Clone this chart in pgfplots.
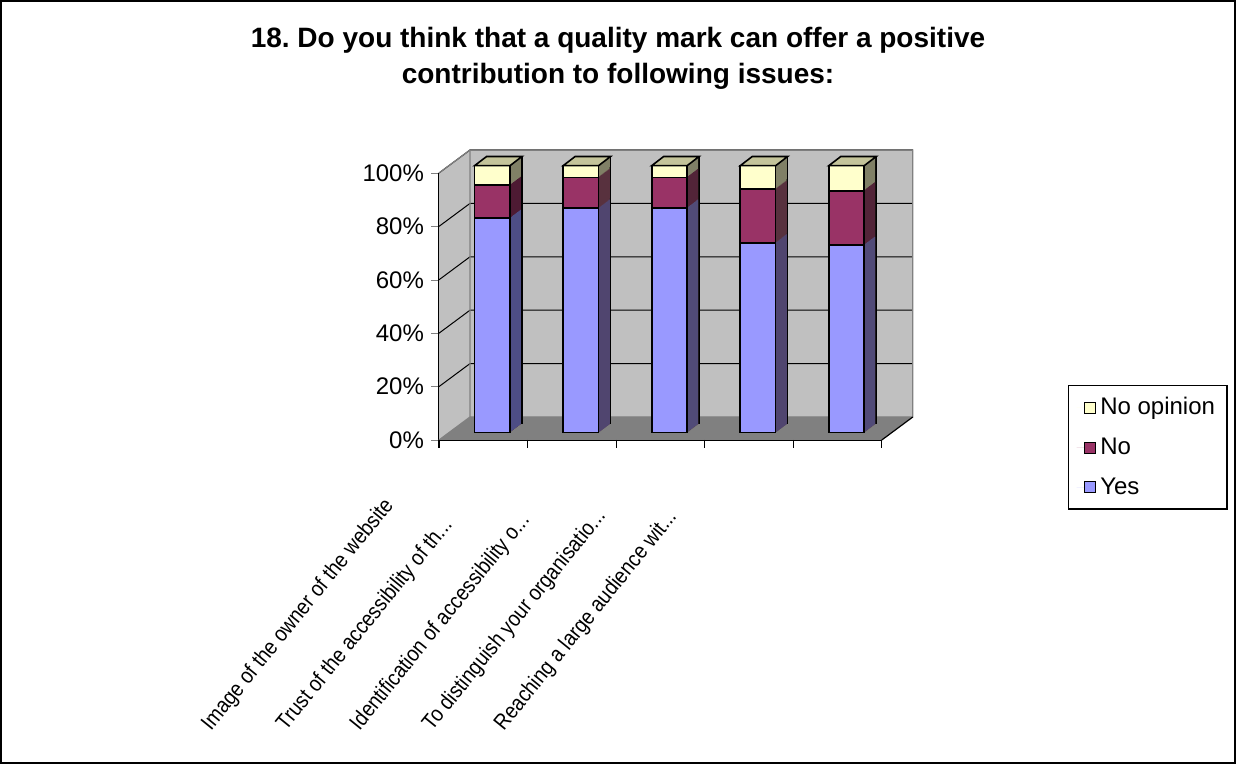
\documentclass[border=0pt]{standalone}
\usepackage{pgfplots}
\pgfplotsset{compat=1.18}
\usepackage{pgfplotstable}
\usepackage{fontspec}
\setmainfont{Liberation Sans}

\definecolor{yesF}{HTML}{9999FF}
\definecolor{yesS}{HTML}{4D4D85}
\definecolor{noF}{HTML}{993366}
\definecolor{noS}{HTML}{4D1A33}
\definecolor{noopF}{HTML}{FFFFCC}
\definecolor{noopS}{HTML}{808066}
\definecolor{topc}{HTML}{C4C49A}
\definecolor{wallc}{HTML}{C0C0C0}
\definecolor{floorc}{HTML}{808080}

% share of answers per issue (%)
\pgfplotstableread{
x yes no noop
0 80.3 12.4 7.3
1 84.1 11.5 4.4
2 84.1 11.5 4.4
3 71.1 20.1 8.8
4 70.2 20.4 9.4
}\answers

% depth of the walls and of the bars
\def\dx{15.5pt}\def\dy{11.5pt}
\def\cut{...}
\newcommand\lab[1]{\scalebox{0.88}[1]{#1}}

\pgfdeclareplotmark{topface}{%
  \pgfpathmoveto{\pgfpoint{-8.85pt}{0pt}}%
  \pgfpathlineto{\pgfpoint{8.85pt}{0pt}}%
  \pgfpathlineto{\pgfpoint{14.85pt}{4.6pt}}%
  \pgfpathlineto{\pgfpoint{-2.85pt}{4.6pt}}%
  \pgfpathclose
  \pgfusepathqfillstroke}

\newcommand\gridline[1]{\draw[black, line width=0.5pt] (axis cs:-0.5,#1) -- ([shift={(\dx,\dy)}]axis cs:-0.5,#1) -- ([shift={(\dx,\dy)}]axis cs:4.5,#1);}
\newcommand\xtickmark[1]{\draw[black, line width=0.6pt] (axis cs:#1,0) -- ([yshift=-4pt]axis cs:#1,0);}

\pgfplotsset{
  sideface/.style={forget plot, ybar, bar width=17.7pt, bar shift=0pt, draw=none,
    xshift=4.5pt+#1*0.5pt, yshift=3.65pt+#1*0.383pt},
  frontface/.style={forget plot, ybar, bar width=17.7pt, bar shift=0pt, draw=black,
    line width=0.8pt, xshift=4.5pt, yshift=3.65pt},
}

\begin{document}
\frenchspacing
\begin{tikzpicture}
\path[use as bounding box] (0,0) rectangle (618pt,382pt);
\draw[line width=1pt] (0.5pt,0.5pt) rectangle (617.5pt,381.5pt);
\node[font=\bfseries\fontsize{14}{17}\selectfont, anchor=base] at (309pt,358.4pt)
  {18. Do you think that a quality mark can offer a positive};
\node[font=\bfseries\fontsize{14}{17}\selectfont, anchor=base] at (309pt,340.4pt)
  {contribution to following issues:};
\begin{axis}[
  at={(219.5pt,162pt)}, anchor=south west,
  scale only axis, width=221.4pt, height=133.5pt,
  xmin=-0.5, xmax=4.5, ymin=0, ymax=100,
  clip=false,
  axis x line*=bottom, axis y line*=left,
  axis line style={black, line width=0.6pt},
  tick align=outside, major tick length=4pt,
  ytick={0,20,...,100},
  yticklabel={\pgfmathprintnumber{\tick}\%},
  /pgf/number format/assume math mode=true,
  yticklabel style={font=\fontsize{12}{14}\selectfont},
  xtick={-0.006,0.84,1.67,2.49,3.30},
  xtick style={draw=none},
  xticklabels={\lab{Image of the owner of the website},
    \lab{Trust of the accessibility of th\cut},
    \lab{Identification of accessibility o\cut},
    \lab{To distinguish your organisatio\cut},
    \lab{Reaching a large audience wit\cut}},
  xticklabel style={font=\fontsize{11}{13}\selectfont, xshift=-138pt, yshift=-144.5pt,
    rotate=51, anchor=base west},
  legend image code/.code={\draw[draw=none] (0pt,0pt) -- (4pt,0pt);
    \draw[#1] (4pt,-2.8pt) rectangle (9.6pt,2.8pt);},
  legend style={at={(1.4205,0.206)}, anchor=north west, draw=black, line width=0.6pt,
    font=\fontsize{12}{14}\selectfont, row sep=6pt, inner sep=4pt},
  legend cell align=left,
]
% walls and floor
\fill[wallc] ([shift={(\dx,\dy)}]axis cs:-0.5,0) rectangle ([shift={(\dx,\dy)}]axis cs:4.5,100);
\fill[wallc] (axis cs:-0.5,0) -- ([shift={(\dx,\dy)}]axis cs:-0.5,0) -- ([shift={(\dx,\dy)}]axis cs:-0.5,100) -- (axis cs:-0.5,100) -- cycle;
\fill[floorc] (axis cs:-0.5,0) -- (axis cs:4.5,0) -- ([shift={(\dx,\dy)}]axis cs:4.5,0) -- ([shift={(\dx,\dy)}]axis cs:-0.5,0) -- cycle;
\gridline{20}\gridline{40}\gridline{60}\gridline{80}\gridline{100}
\draw[floorc, line width=0.6pt] (axis cs:-0.5,100) -- ([shift={(\dx,\dy)}]axis cs:-0.5,100) -- ([shift={(\dx,\dy)}]axis cs:4.5,100) -- ([shift={(\dx,\dy)}]axis cs:4.5,0) -- ([shift={(\dx,\dy)}]axis cs:-0.5,0) -- ([shift={(\dx,\dy)}]axis cs:-0.5,100);
\draw[floorc, line width=0.6pt] ([shift={(\dx,\dy)}]axis cs:-0.5,0) -- (axis cs:-0.5,0);
\draw[black, line width=0.6pt] (axis cs:4.5,0) -- ([shift={(\dx,\dy)}]axis cs:4.5,0);
\xtickmark{-0.5}\xtickmark{0.5}\xtickmark{1.5}\xtickmark{2.5}\xtickmark{3.5}\xtickmark{4.5}

% side faces of the columns
\addplot[sideface=12, fill=noopS, draw=black, line width=0.8pt] table[x=x, y expr=\thisrow{yes}+\thisrow{no}+\thisrow{noop}] {\answers};
\addplot[sideface=12, fill=noS, draw=black, line width=0.8pt] table[x=x, y expr=\thisrow{yes}+\thisrow{no}] {\answers};
\addplot[sideface=12, fill=yesS, draw=black, line width=0.8pt] table[x=x, y=yes] {\answers};
\pgfplotsinvokeforeach{11,10,...,1}{
  \addplot[sideface=#1, fill=noopS] table[x=x, y expr=\thisrow{yes}+\thisrow{no}+\thisrow{noop}] {\answers};
  \addplot[sideface=#1, fill=noS] table[x=x, y expr=\thisrow{yes}+\thisrow{no}] {\answers};
  \addplot[sideface=#1, fill=yesS] table[x=x, y=yes] {\answers};
}
% top faces
\addplot[forget plot, only marks, mark=topface, mark options={fill=topc, draw=black, line width=0.8pt},
  xshift=4.5pt, yshift=3.65pt] table[x=x, y expr=\thisrow{yes}+\thisrow{no}+\thisrow{noop}] {\answers};
% front faces
\addplot[frontface, fill=noopF] table[x=x, y expr=\thisrow{yes}+\thisrow{no}+\thisrow{noop}] {\answers};
\addplot[frontface, fill=noF] table[x=x, y expr=\thisrow{yes}+\thisrow{no}] {\answers};
\addplot[frontface, fill=yesF] table[x=x, y=yes] {\answers};

\addlegendimage{fill=noopF, draw=black, line width=0.5pt}
\addlegendentry{No opinion}
\addlegendimage{fill=noF, draw=black, line width=0.5pt}
\addlegendentry{No}
\addlegendimage{fill=yesF, draw=black, line width=0.5pt}
\addlegendentry{Yes}
\end{axis}
\end{tikzpicture}
\end{document}
